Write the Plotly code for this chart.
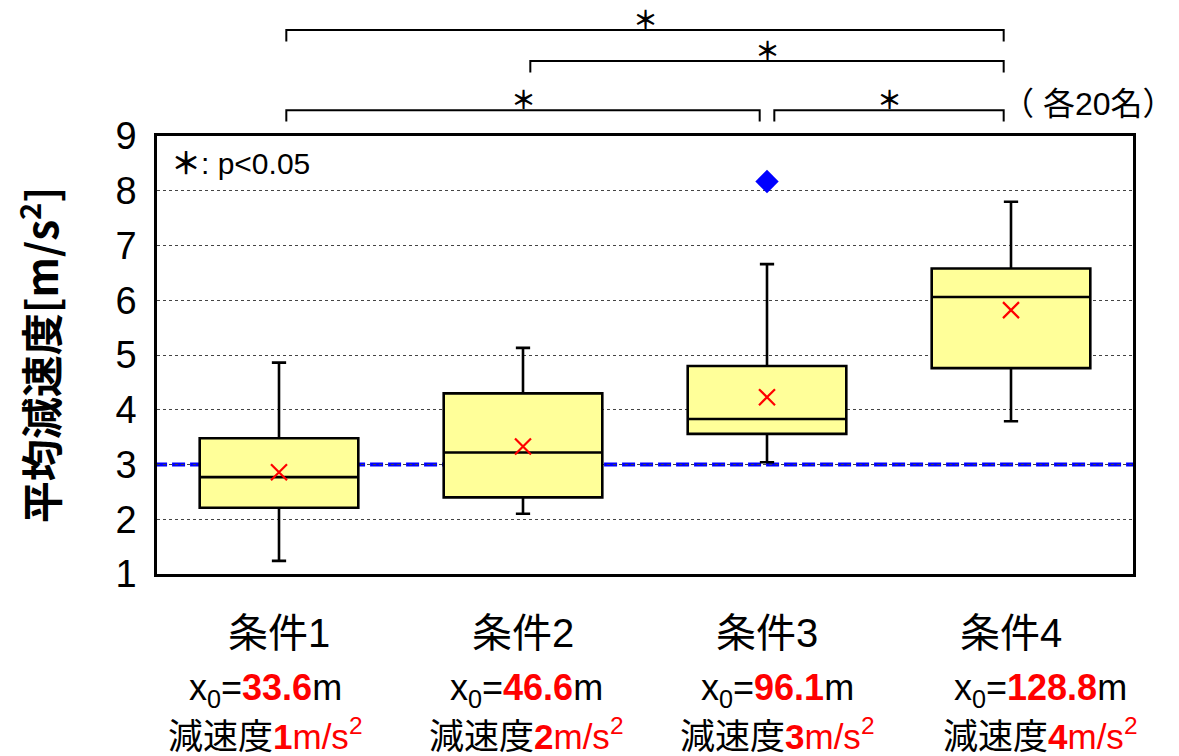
import plotly.graph_objects as go

# ---- data -------------------------------------------------------------
CONDITIONS = ["条件1", "条件2", "条件3", "条件4"]
X0_DIST = [33.6, 46.6, 96.1, 128.8]          # x0 [m]
TARGET_DECEL = [1, 2, 3, 4]                  # 減速度 [m/s^2]

LOWER = [1.24, 2.10, 3.04, 3.79]
Q1 = [2.21, 2.40, 3.56, 4.76]
MEDIAN = [2.77, 3.22, 3.83, 6.06]
Q3 = [3.48, 4.30, 4.80, 6.58]
UPPER = [4.86, 5.13, 6.66, 7.80]
MEAN = [2.86, 3.33, 4.23, 5.82]

OUTLIER_COND = ["条件3"]
OUTLIER_VAL = [8.17]

REF_DECEL = 3.0

# significant pairs (index a, index b) and their bracket row (0 = top)
SIG_PAIRS = [(0, 3), (1, 3), (0, 2), (2, 3)]
SIG_ROWS = [0, 1, 2, 2]
SIG_MARK = "＊"
N_NOTE = "（ 各20名）"
P_NOTE = "<b>＊</b>: p<0.05"

FONT = "Liberation Sans, Arial, Noto Sans CJK JP, sans-serif"
CJK = "Noto Sans CJK JP"

# horizontal nudge (px) of the condition detail lines
DETAIL_SHIFT = [-14, 3, 10, 29]

fig = go.Figure()

fig.add_trace(go.Box(
    x=CONDITIONS, q1=Q1, median=MEDIAN, q3=Q3,
    lowerfence=LOWER, upperfence=UPPER,
    boxpoints=False, width=0.65, whiskerwidth=0.09,
    fillcolor="#FFFF99", line=dict(color="black", width=2.6),
    hoverinfo="skip", showlegend=False,
))

fig.add_trace(go.Scatter(
    x=CONDITIONS, y=MEAN, mode="markers",
    marker=dict(symbol="x-thin", size=16, line=dict(color="red", width=2.2)),
    hoverinfo="skip", showlegend=False,
))

fig.add_trace(go.Scatter(
    x=OUTLIER_COND, y=OUTLIER_VAL, mode="markers",
    marker=dict(symbol="diamond", size=18, color="#0000FF"),
    hoverinfo="skip", showlegend=False,
))

# reference deceleration line
fig.add_shape(type="line", xref="paper", x0=-0.003, x1=1, yref="y",
              y0=REF_DECEL, y1=REF_DECEL, layer="between",
              line=dict(color="#0000FF", width=4, dash="13px,5px"))

# significance brackets
ROW_Y = [1.242, 1.171, 1.059]
LEG = 0.026
INSET = 0.03
for (a, b), row in zip(SIG_PAIRS, SIG_ROWS):
    xa = a + INSET
    xb = b - INSET
    y = ROW_Y[row]
    fig.add_shape(type="path", xref="x", yref="paper",
                  path=f"M {xa},{y - LEG} L {xa},{y} L {xb},{y} L {xb},{y - LEG}",
                  line=dict(color="black", width=2))
    fig.add_annotation(x=(xa + xb) / 2, xref="x", y=y, yref="paper",
                       text=f"<b>{SIG_MARK}</b>", showarrow=False,
                       yanchor="middle", yshift=12,
                       font=dict(family=CJK, size=25, color="black"))

fig.add_annotation(x=1.045, xref="paper", y=1.073, yref="paper",
                   text=N_NOTE, showarrow=False, xanchor="right", yanchor="middle",
                   font=dict(family=FONT, size=32, color="black"))

fig.add_annotation(x=0.012, xref="paper", y=0.938, yref="paper",
                   text=P_NOTE, showarrow=False, xanchor="left", yanchor="middle",
                   font=dict(family=FONT, size=30, color="black"))

# category labels below the axis
for name, x0, dec, dx in zip(CONDITIONS, X0_DIST, TARGET_DECEL, DETAIL_SHIFT):
    fig.add_annotation(x=name, xref="x", y=-0.135, yref="paper", text=name,
                       showarrow=False, yanchor="middle",
                       font=dict(family=FONT, size=40, color="black"))
    fig.add_annotation(x=name, xref="x", y=-0.265, yref="paper", xshift=dx,
                       text=f"x<sub>0</sub>=<span style='color:red'><b>{x0:.1f}</b></span>m",
                       showarrow=False, yanchor="middle",
                       font=dict(family=FONT, size=36, color="black"))
    fig.add_annotation(x=name, xref="x", y=-0.366, yref="paper", xshift=dx,
                       text=f"減速度<span style='color:red'><b>{dec}</b>m/s<sup>2</sup></span>",
                       showarrow=False, yanchor="middle",
                       font=dict(family=FONT, size=35, color="black"))

fig.update_layout(
    width=1179, height=756,
    margin=dict(l=157, r=46, t=136, b=182),
    paper_bgcolor="white", plot_bgcolor="white",
    font=dict(family=FONT, color="black"),
    showlegend=False,
)
fig.update_xaxes(
    type="category", categoryorder="array", categoryarray=CONDITIONS,
    range=[-0.5, 3.5], showticklabels=False, ticks="",
    showline=True, linecolor="black", linewidth=2.5, mirror=True,
    showgrid=False, zeroline=False,
)
fig.update_yaxes(
    range=[1, 9], tick0=1, dtick=1, ticks="", ticklabelstandoff=10,
    tickfont=dict(family=FONT, size=38, color="black"),
    showline=True, linecolor="black", linewidth=2.5, mirror=True,
    showgrid=True, gridcolor="#444", gridwidth=1, griddash="dot",
    zeroline=False,
    title=dict(text="<b>平均減速度[m/s<sup>2</sup>]</b>", standoff=44,
               font=dict(family=CJK, size=42, color="black")),
)

fig.write_html("out.html")
